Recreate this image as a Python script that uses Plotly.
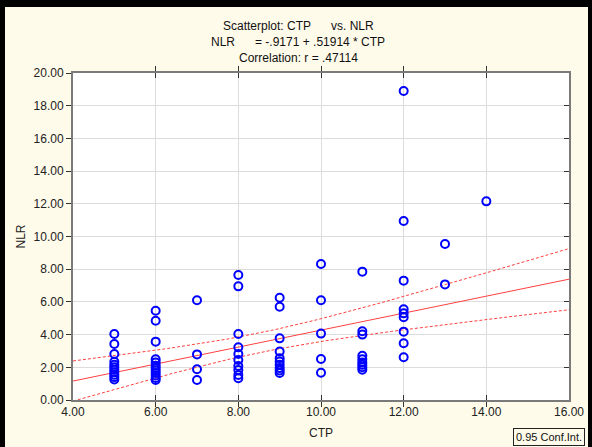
import numpy as np
import plotly.graph_objects as go

# ---- data ----
ctp = ([5]*11 + [6]*12 + [7]*4 + [8]*10 + [9]*10 + [10]*5 + [11]*9 + [12]*9 + [13]*2 + [14]*1)
nlr = [4.04, 3.42, 2.81, 2.34, 2.15, 2.0, 1.85, 1.7, 1.55, 1.4, 1.25,
       5.46, 4.85, 3.57, 2.49, 2.3, 2.1, 1.95, 1.8, 1.65, 1.5, 1.35, 1.22,
       6.1, 2.79, 1.88, 1.22,
       7.65, 6.95, 4.04, 3.22, 2.81, 2.45, 2.08, 1.83, 1.53, 1.33,
       6.25, 5.7, 3.77, 2.96, 2.55, 2.35, 2.15, 1.95, 1.8, 1.65,
       8.32, 6.1, 4.06, 2.51, 1.67,
       7.85, 4.2, 4.0, 2.7, 2.5, 2.3, 2.15, 2.0, 1.85,
       18.9, 10.95, 7.3, 5.55, 5.3, 5.06, 4.18, 3.47, 2.61,
       9.54, 7.07,
       12.15]
intercept = -0.9171
slope = 0.51914
x_ticks = [4, 6, 8, 10, 12, 14, 16]
y_ticks = [0, 2, 4, 6, 8, 10, 12, 14, 16, 18, 20]
title_lines = ["Scatterplot: CTP&nbsp;&nbsp;&nbsp;&nbsp;&nbsp; vs. NLR",
               "NLR&nbsp;&nbsp;&nbsp;&nbsp;&nbsp; = -.9171 + .51914 * CTP",
               "Correlation: r = .47114"]

x = np.array(ctp, float)
y = np.array(nlr, float)
n = len(x)
xbar = x.mean()
sxx = ((x - xbar) ** 2).sum()
b1, b0 = np.polyfit(x, y, 1)
resid = y - (b0 + b1 * x)
s = np.sqrt((resid ** 2).sum() / (n - 2))
tval = 1.994
xs = np.linspace(4, 16, 121)
yfit = intercept + slope * xs
half = tval * s * np.sqrt(1 / n + (xs - xbar) ** 2 / sxx)

W, H = 592, 447
L, R, T, B = 73, 23, 73, 47
pw, ph = W - L - R, H - T - B

def px(p):
    return (p - L) / pw

def py(p):
    return 1 - (p - T) / ph

font = "Liberation Sans, Arial, sans-serif"
red = "#ff4040"
cream = "#fffbea"

fig = go.Figure()
fig.add_trace(go.Scatter(x=xs, y=yfit, mode="lines", line=dict(color=red, width=1), hoverinfo="skip"))
fig.add_trace(go.Scatter(x=xs, y=yfit + half, mode="lines", line=dict(color=red, width=1, dash="3px,2px"), hoverinfo="skip"))
fig.add_trace(go.Scatter(x=xs, y=yfit - half, mode="lines", line=dict(color=red, width=1, dash="3px,2px"), hoverinfo="skip"))
fig.add_trace(go.Scatter(x=ctp, y=nlr, mode="markers",
                         marker=dict(symbol="circle-open", size=8, color="#0000ff", line=dict(width=2, color="#0000ff"))))
fig.add_trace(go.Scatter(x=[None], y=[None], yaxis="y2", showlegend=False))

axis_common = dict(showgrid=True, gridcolor="#dcdcdc", gridwidth=1, zeroline=False,
                   showline=True, linecolor="#7a7a7a", linewidth=2, automargin=False,
                   tickfont=dict(family=font, size=12, color="#222"), ticklen=5,
                   tickcolor="#333", tickformat=".2f")
fig.update_layout(
    width=W, height=H, margin=dict(l=L, r=R, t=T, b=B, autoexpand=False),
    paper_bgcolor=cream, plot_bgcolor="white", showlegend=False,
    xaxis=dict(range=[4, 16], tickvals=x_ticks, ticks="inside", mirror="allticks",
               title=dict(text="CTP", font=dict(family=font, size=12, color="#222"), standoff=10),
               **axis_common),
    yaxis=dict(range=[0, 20], tickvals=y_ticks, ticks="outside", mirror=True,
               title=dict(text="NLR", font=dict(family=font, size=12, color="#222"), standoff=5),
               **axis_common),
    yaxis2=dict(range=[0, 20], tickvals=y_ticks, overlaying="y", side="right", ticks="inside",
                showticklabels=False, showgrid=False, zeroline=False, ticklen=5, tickcolor="#333",
                showline=False, automargin=False),
)

for i, t in enumerate(title_lines):
    fig.add_annotation(text=t, xref="paper", yref="paper", x=px(298), y=py(26 + 16 * i),
                       showarrow=False, xanchor="center", yanchor="middle",
                       font=dict(family=font, size=12, color="#111"))

fig.add_annotation(text="0.95 Conf.Int.", xref="paper", yref="paper", x=px(549), y=py(437),
                   showarrow=False, xanchor="center", yanchor="middle",
                   font=dict(family=font, size=11, color="#111"),
                   bordercolor="#222", borderwidth=1, borderpad=2, bgcolor=cream)

# black frame of the window capture
frame = [(0, W, 0, 7), (0, 5, 0, H), (588, W, 0, H)]
for x0, x1, y0, y1 in frame:
    fig.add_shape(type="rect", xref="paper", yref="paper", x0=px(x0), x1=px(x1),
                  y0=py(y1), y1=py(y0), fillcolor="black", line=dict(width=0), layer="above")

js = ["document.body.style.margin='0';"]
for x0, x1, y0, y1 in frame:
    js.append(
        "(function(){var d=document.createElement('div');d.style.cssText="
        f"'position:fixed;left:{x0}px;top:{y0}px;width:{x1-x0}px;height:{y1-y0}px;background:#000;z-index:9999;pointer-events:none';"
        "document.body.appendChild(d);})();")

fig.write_html("out.html", config={"displayModeBar": False}, post_script="".join(js))
